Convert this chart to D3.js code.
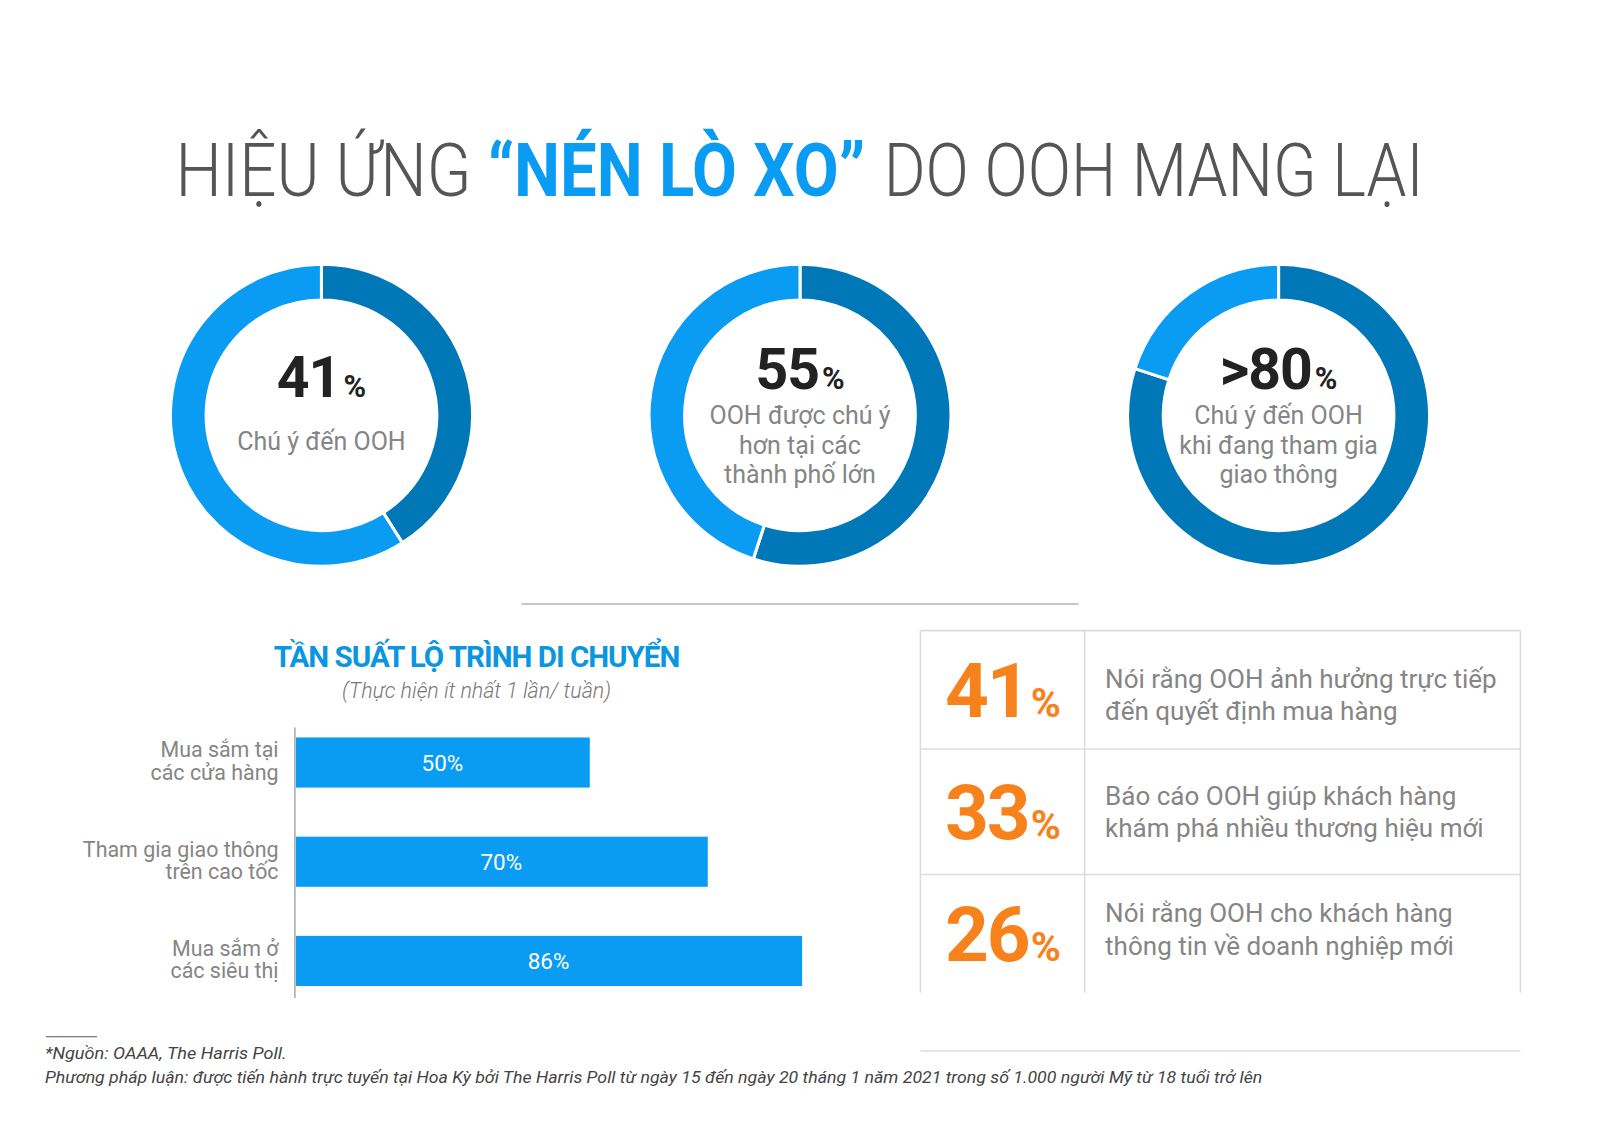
<!DOCTYPE html>
<html>
<head>
<meta charset="utf-8">
<script src="https://cdn.jsdelivr.net/npm/d3@7"></script>
<style>
  body { margin: 0; background: #fff; }
  svg { display: block; font-family: Roboto, "Noto Sans", sans-serif; }
</style>
</head>
<body>
<svg width="1600" height="1131"></svg>
<script>
// data
let titleParts = ["HIỆU ỨNG", "“NÉN LÒ XO”", "DO OOH MANG LẠI"];
let donutValues = [41, 55, 80];
let donutNumbers = ["41", "55", ">80"];
let donutLabels = [
	["Chú ý đến OOH"],
	["OOH được chú ý", "hơn tại các", "thành phố lớn"],
	["Chú ý đến OOH", "khi đang tham gia", "giao thông"]
];
let barCategories = [
	["Mua sắm tại", "các cửa hàng"],
	["Tham gia giao thông", "trên cao tốc"],
	["Mua sắm ở", "các siêu thị"]
];
let barValues = [50, 70, 86];
let statValues = [41, 33, 26];
let statTexts = [
	["Nói rằng OOH ảnh hưởng trực tiếp", "đến quyết định mua hàng"],
	["Báo cáo OOH giúp khách hàng", "khám phá nhiều thương hiệu mới"],
	["Nói rằng OOH cho khách hàng", "thông tin về doanh nghiệp mới"]
];

let dark = '#0077b6',
	light = '#0a9bf2',
	orange = '#f7821b',
	grey = '#858585';

// layout was measured on a 1568 wide copy
let svg = d3.select("svg").append("g")
	.attr("transform", `scale(${1600 / 1568})`);

// title, three pieces squeezed to the widths of the original
let titleX = [172, 478, 866],
	titleW = [290, 370, 529];
svg.append("g").selectAll("text")
	.data(titleParts)
	.enter().append("text")
	.attr("x", (d, i) => titleX[i])
	.attr("y", 192)
	.attr("textLength", (d, i) => titleW[i])
	.attr("lengthAdjust", "spacingAndGlyphs")
	.attr("font-size", 73)
	.attr("font-weight", (d, i) => i == 1 ? 700 : 300)
	.attr("fill", (d, i) => i == 1 ? light : '#555')
	.text(d => d);

// donuts
let centers = [315, 784, 1253],
	cy = 407,
	outerR = 148,
	innerR = 113;

let pie = d3.pie().sort(null).value(d => d);
let arc = d3.arc().innerRadius(innerR).outerRadius(outerR);

donutValues.forEach((v, i) => {
	let g = svg.append("g").attr("transform", `translate(${centers[i]},${cy})`);
	g.selectAll("path")
		.data(pie([v, 100 - v]))
		.enter().append("path")
		.attr("d", arc)
		.attr("fill", (d, j) => j == 0 ? dark : light)
		.attr("stroke", '#fff')
		.attr("stroke-width", 3);

	let n = donutLabels[i].length;
	let numY = n == 1 ? -18 : -26;
	let num = g.append("text")
		.attr("text-anchor", "middle")
		.attr("y", numY)
		.attr("fill", '#222')
		.attr("font-weight", 700);
	num.append("tspan").attr("font-size", 56).attr("letter-spacing", -1).text(donutNumbers[i]);
	num.append("tspan").attr("font-size", 30).attr("dx", 3).text("%");

	let startY = n == 1 ? 34 : 9;
	g.selectAll("text.lbl")
		.data(donutLabels[i])
		.enter().append("text")
		.attr("class", "lbl")
		.attr("text-anchor", "middle")
		.attr("y", (d, j) => startY + j * 28.5)
		.attr("font-size", 24.5)
		.attr("fill", grey)
		.text(d => d);
});

// divider
svg.append("line")
	.attr("x1", 511).attr("x2", 1057)
	.attr("y1", 592).attr("y2", 592)
	.attr("stroke", '#b5b5b5').attr("stroke-width", 1.5);

// bar chart
svg.append("text")
	.attr("x", 467).attr("y", 654)
	.attr("text-anchor", "middle")
	.attr("font-size", 29)
	.attr("font-weight", 700)
	.attr("letter-spacing", -1)
	.attr("fill", '#0a96e0')
	.text("TẦN SUẤT LỘ TRÌNH DI CHUYỂN");
svg.append("text")
	.attr("x", 467).attr("y", 684)
	.attr("text-anchor", "middle")
	.attr("font-size", 21)
	.attr("font-style", "italic")
	.attr("font-weight", 300)
	.attr("fill", '#777')
	.text("(Thực hiện ít nhất 1 lần/ tuần)");

let x = d3.scaleLinear().domain([0, 100]).range([289, 867]);
let y = d3.scaleBand()
	.domain(d3.range(barValues.length))
	.range([713, 976])
	.paddingInner(0.495)
	.paddingOuter(0.1);

svg.append("line")
	.attr("x1", x(0)).attr("x2", x(0))
	.attr("y1", y.range()[0]).attr("y2", y.range()[1] + 2)
	.attr("stroke", '#aaa').attr("stroke-width", 1.5);

let bars = svg.append("g");
bars.selectAll("rect")
	.data(barValues)
	.enter().append("rect")
	.attr("x", x(0) + 1)
	.attr("y", (d, i) => y(i))
	.attr("width", d => x(d) - x(0) - 1)
	.attr("height", y.bandwidth())
	.attr("fill", light);

bars.selectAll("text.val")
	.data(barValues)
	.enter().append("text")
	.attr("class", "val")
	.attr("x", d => (x(0) + x(d)) / 2)
	.attr("y", (d, i) => y(i) + y.bandwidth() / 2 + 8)
	.attr("text-anchor", "middle")
	.attr("font-size", 22)
	.attr("fill", '#fff')
	.text(d => d + "%");

barCategories.forEach((lines, i) => {
	svg.append("g").selectAll("text")
		.data(lines)
		.enter().append("text")
		.attr("x", 273)
		.attr("y", (d, j) => y(i) + y.bandwidth() / 2 - 5 + j * 22)
		.attr("text-anchor", "end")
		.attr("font-size", 21)
		.attr("fill", grey)
		.text(d => d);
});

// stats table
let tx0 = 902, tx1 = 1490, tcol = 1063;
let rowTops = [618, 734, 857],
	tBottom = 973;
let lineCol = '#dcdcdc';

let tbl = svg.append("g");
tbl.selectAll("line.h")
	.data(rowTops)
	.enter().append("line")
	.attr("class", "h")
	.attr("x1", tx0).attr("x2", tx1)
	.attr("y1", d => d).attr("y2", d => d)
	.attr("stroke", lineCol).attr("stroke-width", 1.5);
tbl.selectAll("line.v")
	.data([tx0, tcol, tx1])
	.enter().append("line")
	.attr("class", "v")
	.attr("x1", d => d).attr("x2", d => d)
	.attr("y1", rowTops[0]).attr("y2", tBottom)
	.attr("stroke", lineCol).attr("stroke-width", 1.5);
tbl.append("line")
	.attr("x1", tx0).attr("x2", tx1)
	.attr("y1", 1030).attr("y2", 1030)
	.attr("stroke", lineCol).attr("stroke-width", 1.5);

let rowBottoms = rowTops.slice(1).concat([tBottom]);
let textShift = [-2, -7, -11];
statValues.forEach((v, i) => {
	let mid = (rowTops[i] + rowBottoms[i]) / 2;
	let t = tbl.append("text")
		.attr("x", 926)
		.attr("y", mid + 27)
		.attr("fill", orange)
		.attr("font-weight", 700);
	t.append("tspan").attr("font-size", 75).attr("letter-spacing", -2).text(v);
	t.append("tspan").attr("font-size", 40).attr("dx", 2).text("%");

	tbl.append("g").selectAll("text")
		.data(statTexts[i])
		.enter().append("text")
		.attr("x", 1083)
		.attr("y", (d, j) => mid + textShift[i] + j * 32)
		.attr("font-size", 25.5)
		.attr("fill", grey)
		.text(d => d);
});

// footer
svg.append("line")
	.attr("x1", 45).attr("x2", 95)
	.attr("y1", 1016).attr("y2", 1016)
	.attr("stroke", '#555').attr("stroke-width", 1);
let foot = ["*Nguồn: OAAA, The Harris Poll.",
	"Phương pháp luận: được tiến hành trực tuyến tại Hoa Kỳ bởi The Harris Poll từ ngày 15 đến ngày 20 tháng 1 năm 2021 trong số 1.000 người Mỹ từ 18 tuổi trở lên"];
let footLen = [237, 1193];
svg.append("g").selectAll("text")
	.data(foot)
	.enter().append("text")
	.attr("x", 44)
	.attr("y", (d, i) => 1038 + i * 23)
	.attr("textLength", (d, i) => footLen[i])
	.attr("lengthAdjust", "spacingAndGlyphs")
	.attr("font-size", 17)
	.attr("font-style", "italic")
	.attr("fill", '#444')
	.text(d => d);
</script>
</body>
</html>
